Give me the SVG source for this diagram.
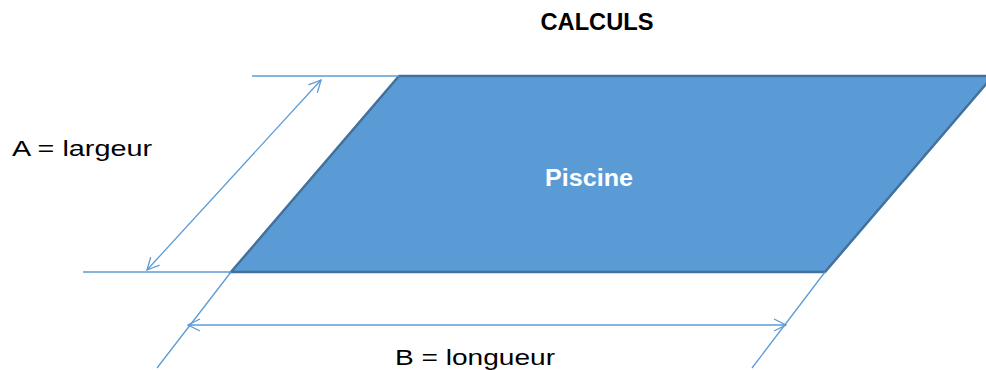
<svg xmlns="http://www.w3.org/2000/svg" width="986" height="370" viewBox="0 0 986 370">
<defs>
<style>
.dim{stroke:#5B9BD5;stroke-width:1.3;fill:none}
.lbl{font-family:"Liberation Sans",Arial,sans-serif;font-size:22px;fill:#000}
.ttl{font-family:"Liberation Sans",Arial,sans-serif;font-size:23px;font-weight:bold;fill:#000}
.shape{fill:#5B9BD5;stroke:#41719C;stroke-width:2.5;stroke-linejoin:miter}
.in{font-family:"Liberation Sans",Arial,sans-serif;font-size:24px;font-weight:bold;fill:#fff}
</style>
<marker id="arr" viewBox="0 0 14 14" refX="13" refY="7" markerWidth="14" markerHeight="14" markerUnits="userSpaceOnUse" orient="auto-start-reverse">
<path d="M1,1 L13,7 L1,13" fill="none" stroke="#5B9BD5" stroke-width="1.3"/>
</marker>
</defs>
<rect width="986" height="370" fill="#fff"/>
<text class="ttl" x="597" y="30" text-anchor="middle" textLength="113" lengthAdjust="spacingAndGlyphs">CALCULS</text>
<g id="piscine">
<polygon class="shape" points="399,76 993,76 825,272 231,272"/>
<text class="in" x="589" y="186" text-anchor="middle" textLength="88" lengthAdjust="spacingAndGlyphs">Piscine</text>
</g>
<g id="connectors">
<line class="dim" x1="252" y1="76" x2="399" y2="76"/>
<line class="dim" x1="83" y1="272" x2="231" y2="272"/>
<line class="dim" x1="147" y1="270" x2="321" y2="80" marker-start="url(#arr)" marker-end="url(#arr)"/>
<line class="dim" x1="231" y1="272" x2="157" y2="368"/>
<line class="dim" x1="825" y1="272" x2="752" y2="368"/>
<line class="dim" x1="188" y1="325" x2="786" y2="325" marker-start="url(#arr)" marker-end="url(#arr)"/>
</g>
<g id="labelA">
<text class="lbl" x="12" y="156" textLength="140" lengthAdjust="spacingAndGlyphs">A = largeur</text>
</g>
<g id="labelB">
<text class="lbl" x="395" y="365" textLength="160" lengthAdjust="spacingAndGlyphs">B = longueur</text>
</g>
</svg>
